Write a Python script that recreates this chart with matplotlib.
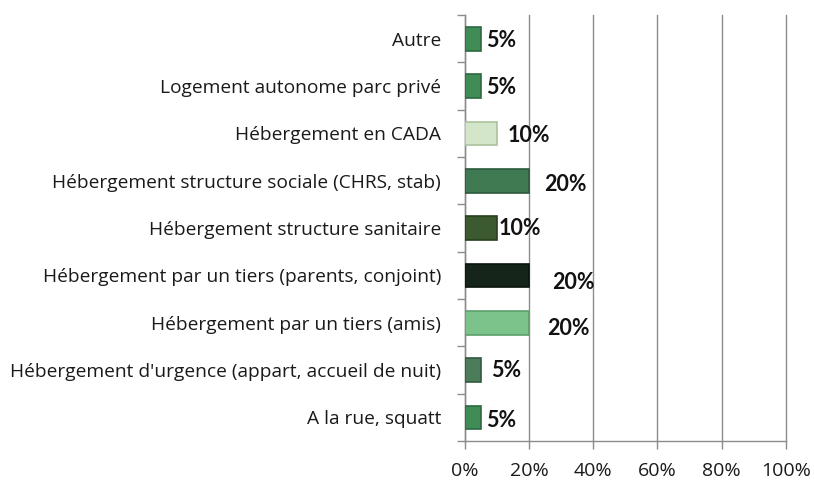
import matplotlib
matplotlib.use("Agg")
import matplotlib.pyplot as plt
from matplotlib.ticker import PercentFormatter, FixedLocator

categories = [
    "Autre",
    "Logement autonome parc privé",
    "Hébergement en CADA",
    "Hébergement structure sociale (CHRS, stab)",
    "Hébergement structure sanitaire",
    "Hébergement par un tiers (parents, conjoint)",
    "Hébergement par un tiers (amis)",
    "Hébergement d'urgence (appart, accueil de nuit)",
    "A la rue, squatt",
]
values = [0.05, 0.05, 0.10, 0.20, 0.10, 0.20, 0.20, 0.05, 0.05]
value_labels = ["5%", "5%", "10%", "20%", "10%", "20%", "20%", "5%", "5%"]
bar_colors = ["#3f8c57", "#3f8c57", "#d3e6c9", "#3f7a52", "#3c5a30",
              "#15251a", "#7cc28b", "#4b7d5a", "#3f8c57"]
edge_colors = ["#2c6a3f", "#2c6a3f", "#a9c39d", "#2c5a3a", "#293f20",
               "#0a140d", "#5ea06c", "#345a40", "#2c6a3f"]
# label offsets (x in data units, y in category units) to mimic the reference placement
label_dx = [0.017, 0.017, 0.032, 0.048, 0.004, 0.073, 0.057, 0.032, 0.017]
label_dy = [0.04, 0.02, 0.04, 0.08, 0.0, 0.15, 0.13, 0.02, 0.06]

plt.rcParams['font.family'] = ['Open Sans', 'DejaVu Sans']

fig = plt.figure(figsize=(8.14, 4.84), dpi=100)
ax = fig.add_axes([0.571, 0.0888, 0.3945, 0.880])

y = list(range(len(categories)))
ax.barh(y, values, height=0.5, color=bar_colors, edgecolor=edge_colors,
        linewidth=1.2, zorder=3)

for i, (v, lab) in enumerate(zip(values, value_labels)):
    ax.text(v + label_dx[i], i + label_dy[i], lab, va="center", ha="left",
            fontsize=15.5, fontweight="bold", color="#111111", zorder=4,
            family=["Lato", "DejaVu Sans"])

ax.set_xlim(0, 1.0)
ax.set_ylim(len(categories) - 0.5, -0.5)
ax.xaxis.set_major_locator(FixedLocator([0, 0.2, 0.4, 0.6, 0.8, 1.0]))
ax.xaxis.set_major_formatter(PercentFormatter(1.0, decimals=0))
ax.set_yticks(y)
ax.set_yticklabels(categories)
ax.set_yticks([i + 0.5 for i in range(-1, len(categories))], minor=True)
ax.tick_params(axis="y", which="major", length=0, pad=17, labelsize=13.8, labelcolor="#1a1a1a")
ax.tick_params(axis="y", which="minor", length=6, direction="out", color="#8c8c8c", width=1)
ax.tick_params(axis="x", which="major", length=6, direction="out", color="#8c8c8c",
               width=1, labelsize=14, labelcolor="#1a1a1a", pad=9)

ax.grid(axis="x", color="#8c8c8c", linewidth=1, zorder=0)
for gl in ax.get_xgridlines():
    gl.set_clip_on(False)
for side in ["top", "right"]:
    ax.spines[side].set_visible(False)
for side in ["left", "bottom"]:
    ax.spines[side].set_color("#8c8c8c")
    ax.spines[side].set_linewidth(1)

fig.savefig("out.png", dpi=100)
